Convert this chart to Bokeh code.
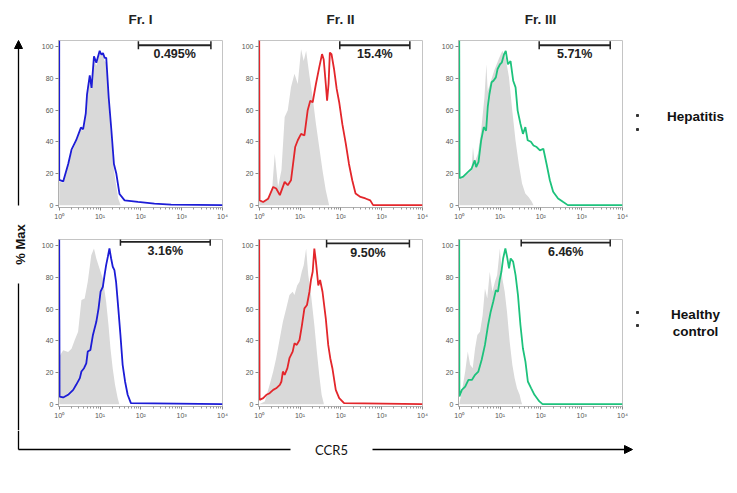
import math
from bokeh.plotting import figure
from bokeh.layouts import row, column
from bokeh.models import Range1d, FixedTicker, Label, Arrow, NormalHead
from bokeh.embed import file_html
from bokeh.resources import INLINE

# ---------------- data ----------------
column_titles = ["Fr. I", "Fr. II", "Fr. III"]
row_titles = [["Hepatitis"], ["Healthy", "control"]]
x_axis_title = "CCR5"
y_axis_title = "% Max"
x_ticks = [1, 10, 100, 1000, 10000]
x_tick_labels = ["10\u2070", "10\u00b9", "10\u00b2", "10\u00b3", "10\u2074"]
y_ticks = [0, 20, 40, 60, 80, 100]

# Hepatitis, Fr. I
hep1_x = [1, 1, 1.25, 1.66, 2.0, 2.6, 3.4, 3.85, 4.47, 4.8, 5.6, 6.2, 7.1, 8.1, 9.8, 10.8, 11.8, 13, 14.2,
          16.3, 19, 21.9, 25, 30, 40, 85, 215, 550, 10000]
hep1_y = [104, 16, 15, 26, 35, 41, 49, 48, 58, 70, 82, 74, 94, 90, 97.5, 95, 96, 93, 93,
          68, 47, 26, 20, 7, 3, 2, 1, 0.3, 0]
hep1_ctrl_x = [1, 1.25, 1.66, 2.0, 2.6, 3.4, 3.85, 4.47, 4.8, 5.6, 6.2, 7.1, 8.1, 9.8, 10.8, 11.8, 13, 14.2,
               16.3, 19, 21.9, 25, 28, 32]
hep1_ctrl_y = [15, 14, 25, 33, 40, 48, 47, 56, 68, 80, 73, 92, 88, 96, 94, 95, 91, 90,
               64, 42, 22, 12, 4, 0]

# Hepatitis, Fr. II
hep2_x = [1, 1.02, 1.25, 1.65, 2.2, 2.6, 3.2, 4.2, 5.0, 6.0, 7.6, 8.8, 10.6, 12.8, 15.4, 17.8, 20.4, 24.5,
          29.5, 34.6, 38, 42.7, 46, 50, 53.7, 59, 68, 79, 91, 109, 132, 158, 190, 229, 302, 400, 525, 617, 10000]
hep2_y = [104, 3, 2, 4, 11.5, 10.5, 6.3, 14.7, 12.6, 15.7, 36.7, 41, 45, 44, 60, 66, 65, 76.5,
          87, 95.4, 92, 76.5, 66, 76.5, 96.4, 95.4, 86, 73.4, 65, 51, 38.8, 26, 15.7, 7.3, 5.2, 4.2, 3, 0, 0]
hep2_ctrl_x = [1, 1.4, 1.8, 2.1, 2.4, 2.9, 3.5, 4.2, 5.0, 6.0, 7.3, 8.8, 10.6, 12.3, 14.1, 17, 20.4, 24.5,
               29.5, 35.5, 42.7, 51.6]
hep2_ctrl_y = [2, 3, 6, 12, 32.5, 11.5, 22, 55.6, 60, 74.4, 83, 76.5, 98.5, 91, 97.5, 81.8, 68, 51.4,
               36.7, 22, 9.4, 0]

# Hepatitis, Fr. III
hep3_x = [1, 1.02, 1.25, 1.65, 2.0, 2.4, 2.6, 2.97, 3.45, 4.0, 4.55, 5.0, 5.5, 6.2, 6.9, 7.9, 8.7, 10, 11,
          12.6, 13.8, 15.6, 18.1, 21, 24, 27, 31.6, 36.4, 41.7, 47.5, 57, 66, 79, 95, 115, 138, 166, 200,
          264, 347, 457, 10000]
hep3_y = [104, 17, 18, 21, 23, 28.3, 24, 27.3, 41, 49.3, 47, 62, 70.2, 77.6, 78.6, 80.7, 86, 89, 90,
          95.4, 97.5, 89, 91, 78.6, 74.4, 59.7, 51.4, 45, 49.3, 41, 40, 37.7, 36.7, 34.6, 35.6, 26, 15.7, 8.4,
          4.2, 2.1, 0, 0]
hep3_ctrl_x = [1, 1.25, 1.65, 2.0, 2.17, 2.38, 2.86, 3.44, 4.14, 4.63, 4.98, 6.0, 7.2, 9.5, 11.4, 13.7,
               16.5, 19.9, 23.9, 28.8, 34.6, 41.6, 50, 60, 66]
hep3_ctrl_y = [16, 17.8, 20, 22, 36.7, 27, 32.5, 47, 68, 89, 72, 78.6, 85, 93, 97.5, 93,
               81, 60, 41, 26, 13.6, 7.3, 5.2, 2.1, 0]

# Healthy control, Fr. I
hc1_x = [1, 1.02, 1.25, 1.65, 2.2, 2.6, 3.2, 3.5, 4.05, 4.6, 5.0, 5.8, 6.7, 8.1, 9.2, 10.3, 11.7, 12.9,
         14.1, 15.5, 17, 18.7, 20.5, 22.5, 24.7, 28, 31.6, 35.8, 41, 47.5, 57, 10000]
hc1_y = [104, 4.8, 4.2, 5.9, 9, 12.2, 16.4, 20.6, 22.7, 25.8, 33.2, 34.2, 43.7, 52, 60.5, 71, 74, 81.5,
         87.8, 93, 98.3, 92, 86.8, 84.7, 77.3, 60.5, 43.7, 24.8, 14.3, 5.9, 0.6, 0]
hc1_ctrl_x = [1, 1.25, 1.65, 2.0, 2.4, 2.9, 3.5, 4.2, 5.0, 6.1, 7.1, 8.1, 9.7, 11.7, 14.1, 16.1, 18,
              20.4, 23.3, 27, 29.7]
hc1_ctrl_y = [30, 34, 33, 35, 40.5, 45.8, 65.8, 66.8, 77.3, 94, 98.3, 92, 85.7, 79.4, 64.7, 50, 35.3,
              22.7, 12.2, 3.8, 0]

# Healthy control, Fr. II
hc2_x = [1, 1.02, 1.25, 1.5, 1.8, 2.2, 2.6, 3.2, 3.5, 3.8, 4.2, 4.9, 5.5, 6.6, 7.3, 8.3, 9.7, 11, 12.8,
         14.8, 17, 18.5, 20.4, 22.4, 24.5, 28, 31, 35.5, 42.7, 49, 55, 62, 75, 91, 120, 10000]
hc2_y = [104, 2.7, 3.8, 5.9, 6.9, 9, 10, 12.2, 14.3, 20.6, 18.5, 22.7, 29, 33.2, 38.4, 37.4, 40.5, 49, 60.5,
         62.6, 71, 78.4, 83.6, 98.3, 90, 75, 78.4, 71, 54.2, 37.4, 29, 22.7, 9, 3.8, 0.6, 0]
hc2_ctrl_x = [1, 1.37, 1.8, 2.2, 2.6, 3.2, 3.8, 4.6, 5.5, 6.6, 7.3, 8.5, 9.7, 11, 12.3, 14.1, 15.9,
              18.6, 22.4, 25.8, 29.5, 33.8, 38]
hc2_ctrl_y = [0, 1.7, 12.2, 20.6, 29, 41.6, 52, 60.5, 68.9, 71, 69, 75, 77.3, 83.6, 87.8, 98.3, 81.5,
              68.9, 50, 33.2, 18.5, 5.9, 0.6]

# Healthy control, Fr. III
hc3_x = [1, 1.01, 1.16, 1.4, 1.68, 2.04, 2.45, 2.94, 3.55, 4.27, 5.1, 5.9, 6.8, 7.9, 8.9, 9.8, 10.8, 11.9,
         13.5, 14.9, 16.6, 18.2, 20.9, 24, 27.5, 31.6, 36.3, 41.9, 48, 58, 69.7, 92, 110, 10000]
hc3_y = [104, 4.8, 9, 11, 15.3, 15.3, 18.5, 20.6, 28, 37.4, 50, 58.4, 64.7, 72, 71, 78.4, 83.6, 92,
         98.3, 93, 85.7, 92, 90, 81.5, 68.9, 50, 35.3, 26.9, 14.3, 10, 5.9, 1.7, 0, 0]
hc3_ctrl_x = [1, 1.16, 1.4, 1.62, 1.85, 2.14, 2.45, 2.78, 3.23, 3.75, 4.27, 4.86, 5.6, 6.5, 7.5, 8.5, 9.9,
              11.4, 13, 14.8, 17.2, 20, 22.8, 26, 30.2, 33, 34.8]
hc3_ctrl_y = [0, 8, 20.6, 33.2, 24.8, 22.7, 35.3, 43.7, 45.8, 56.3, 73, 66.8, 83.6, 71, 77.3, 81.5, 98.3,
              79.4, 71, 58.4, 39.5, 24.8, 16.4, 10, 5.9, 1.7, 0]

# gates (CCR5+ region) per panel, row-major
gate_lo = [87, 94, 91, 31.6, 44.7, 33]
gate_hi = [5200, 4900, 5000, 5000, 4780, 5000]
gate_y = [101, 101, 101, 102.5, 101.5, 102]
gate_labels = ["0.495%", "15.4%", "5.71%", "3.16%", "9.50%", "6.46%"]

panel_series = [
    (hep1_x, hep1_y, hep1_ctrl_x, hep1_ctrl_y),
    (hep2_x, hep2_y, hep2_ctrl_x, hep2_ctrl_y),
    (hep3_x, hep3_y, hep3_ctrl_x, hep3_ctrl_y),
    (hc1_x, hc1_y, hc1_ctrl_x, hc1_ctrl_y),
    (hc2_x, hc2_y, hc2_ctrl_x, hc2_ctrl_y),
    (hc3_x, hc3_y, hc3_ctrl_x, hc3_ctrl_y),
]
fraction_colors = ["#1c1cd6", "#e3262b", "#1dc27c"]

# ---------------- layout constants (page pixel coordinates) ----------------
LEFT_W = 33
PANEL_W, PANEL_H = 200, 199
B_LEFT, B_RIGHT, B_TOP, B_BOTTOM = 25, 11, 8, 24
RIGHT_W = 95
TOTAL_W = LEFT_W + 3 * PANEL_W + RIGHT_W
HEADER_H = 32
FOOTER_H = 50
FONT = "Liberation Sans"


def canvas(x0, x1, y0, y1):
    p = figure(width=x1 - x0, height=y1 - y0, x_range=Range1d(x0, x1), y_range=Range1d(y1, y0),
               output_backend="svg", toolbar_location=None, x_axis_location=None, y_axis_location=None,
               min_border=0, outline_line_color=None, tools="")
    p.xgrid.visible = False
    p.ygrid.visible = False
    return p


def make_panel(i):
    sx, sy, cx, cy = panel_series[i]
    color = fraction_colors[i % 3]
    p = figure(width=PANEL_W, height=PANEL_H, x_axis_type="log",
               x_range=Range1d(0.96, 10000), y_range=Range1d(-1.5, 104),
               output_backend="svg", toolbar_location=None, tools="",
               min_border_left=B_LEFT, min_border_right=B_RIGHT,
               min_border_top=B_TOP, min_border_bottom=B_BOTTOM)
    p.xgrid.visible = False
    p.ygrid.visible = False
    p.outline_line_color = "#c4c4c4"
    p.background_fill_color = "white"

    p.varea(x=cx, y1=[0] * len(cx), y2=cy, fill_color="#d9d9d9", fill_alpha=1.0)
    p.line(sx, sy, line_color=color, line_width=1.8)

    lo, hi, gy = gate_lo[i], gate_hi[i], gate_y[i]
    p.segment(x0=[lo], y0=[gy], x1=[hi], y1=[gy], line_color="#222222", line_width=1.8)
    p.segment(x0=[lo, hi], y0=[gy - 2.5, gy - 2.5], x1=[lo, hi], y1=[gy + 2.5, gy + 2.5],
              line_color="#222222", line_width=1.5)
    p.add_layout(Label(x=math.sqrt(lo * hi), y=gy - 5.8, text=gate_labels[i], text_align="center",
                       text_baseline="middle", text_font=FONT, text_font_style="bold",
                       text_font_size="12.5px", text_color="#222222"))

    p.xaxis.ticker = FixedTicker(ticks=x_ticks,
                                 minor_ticks=[m * d for d in x_ticks[:-1] for m in range(2, 10)])
    p.xaxis.major_label_overrides = dict(zip(x_ticks, x_tick_labels))
    p.yaxis.ticker = FixedTicker(ticks=y_ticks, minor_ticks=[])
    for ax in p.axis:
        ax.axis_line_color = "#b0b0b0"
        ax.major_tick_line_color = "#888888"
        ax.minor_tick_line_color = "#9a9a9a"
        ax.major_tick_out = 3
        ax.major_tick_in = 0
        ax.minor_tick_out = 2
        ax.minor_tick_in = 0
        ax.major_label_text_font = FONT
        ax.major_label_text_font_size = "7px"
        ax.major_label_text_color = "#555555"
        ax.major_label_standoff = 2
    p.yaxis.minor_tick_line_color = None
    return p


panels = [make_panel(i) for i in range(6)]
grid = column(row(*panels[:3], spacing=0), row(*panels[3:], spacing=0), spacing=0)

# header with column titles
header = canvas(0, TOTAL_W, 0, HEADER_H)
for j, t in enumerate(column_titles):
    cx = LEFT_W + j * PANEL_W + B_LEFT + (PANEL_W - B_LEFT - B_RIGHT) / 2
    header.add_layout(Label(x=cx, y=19, text=t, text_align="center", text_baseline="middle",
                            text_font=FONT, text_font_style="bold", text_font_size="13.5px",
                            text_color="#222222"))

mid_top = HEADER_H
mid_bot = mid_top + 2 * PANEL_H

# left strip: y axis arrow and title
left = canvas(0, LEFT_W, mid_top, mid_bot)
left.add_layout(Arrow(end=NormalHead(size=8, fill_color="black", line_color="black"),
                      x_start=18, y_start=205, x_end=18, y_end=40, line_width=1.3, line_color="black"))
left.segment(x0=[18], y0=[283], x1=[18], y1=[mid_bot], line_color="black", line_width=1.3)
left.add_layout(Label(x=20, y=244, text=y_axis_title, angle=math.pi / 2, text_align="center",
                      text_baseline="middle", text_font=FONT, text_font_style="bold",
                      text_font_size="13px", text_color="#111111"))

# right strip: row labels
rx0 = LEFT_W + 3 * PANEL_W
right = canvas(rx0, rx0 + RIGHT_W, mid_top, mid_bot)
row_label_y = [[116], [314, 331]]
for lines, ys in zip(row_titles, row_label_y):
    for t, y in zip(lines, ys):
        right.add_layout(Label(x=695, y=y, text=t, text_align="center", text_baseline="middle",
                               text_font=FONT, text_font_style="bold", text_font_size="13.5px",
                               text_color="#111111"))
right.scatter(x=[637, 637, 637, 637], y=[115, 129, 312, 325], marker="square", size=2,
              color="#333333")

# footer: x axis arrow and title
footer = canvas(0, TOTAL_W, mid_bot, mid_bot + FOOTER_H)
AY = 449
footer.segment(x0=[18, 18], y0=[mid_bot, AY], x1=[18, 290], y1=[AY, AY], line_color="black",
               line_width=1.3)
footer.add_layout(Arrow(end=NormalHead(size=8, fill_color="black", line_color="black"),
                        x_start=372, y_start=AY, x_end=632, y_end=AY, line_width=1.3,
                        line_color="black"))
footer.add_layout(Label(x=331, y=AY, text=x_axis_title, text_align="center", text_baseline="middle",
                        text_font="Lato", text_font_size="13px", text_color="#111111"))

root = column(header, row(left, grid, right, spacing=0), footer, spacing=0)

open("out.html", "w").write(file_html(root, INLINE))
